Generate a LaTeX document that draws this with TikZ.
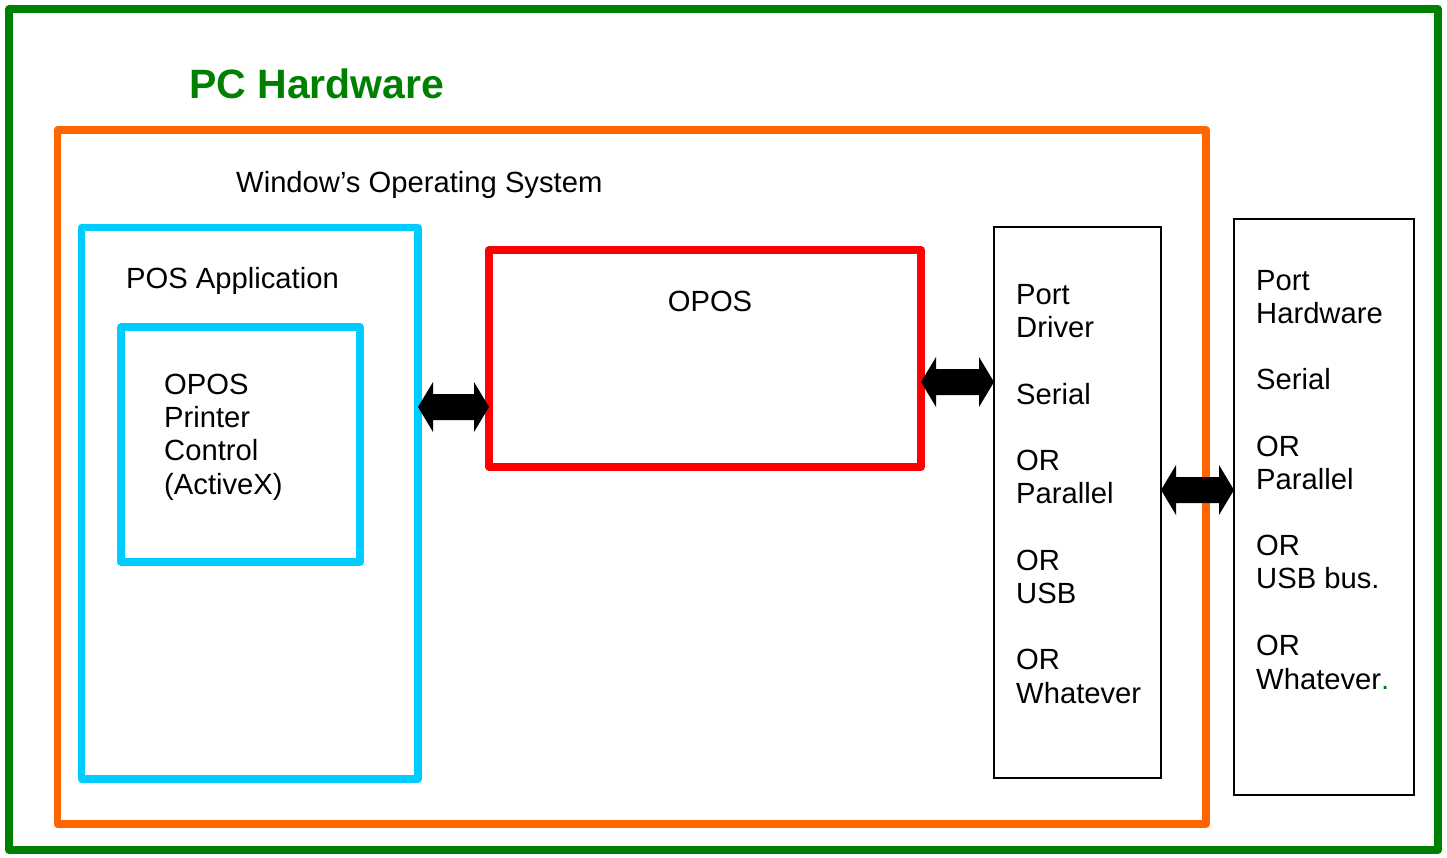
\documentclass[tikz,border=0pt]{standalone}
\usepackage{fontspec}
\setmainfont{Liberation Sans}
\usetikzlibrary{calc}
\definecolor{pcgreen}{RGB}{0,128,0}
\definecolor{osorange}{RGB}{255,102,0}
\definecolor{appcyan}{RGB}{0,204,255}
\definecolor{oposred}{RGB}{255,0,0}
\tikzset{
  box/.style={draw, line width=7.5pt, line join=round, inner sep=0pt, outer sep=0pt, anchor=north west},
  thinbox/.style={draw=black, line width=1.8pt, inner sep=0pt, outer sep=0pt, anchor=north west},
  lbl/.style={anchor=base west, inner sep=0pt, font=\fontsize{29.2}{33.2}\selectfont},
  blk/.style={fill=black, draw=none},
}
\newcommand{\blockarrow}[2]{% left coord, right coord (same y)
  \fill[blk] (#1) -- ($(#1)+(15,-25)$) -- ($(#1)+(15,-13)$) -- ($(#2)+(-15,-13)$) -- ($(#2)+(-15,-25)$) -- (#2)
    -- ($(#2)+(-15,25)$) -- ($(#2)+(-15,13)$) -- ($(#1)+(15,13)$) -- ($(#1)+(15,25)$) -- cycle;}
\begin{document}
\begin{tikzpicture}[x=1pt,y=-1pt]
\useasboundingbox (0,0) rectangle (1447,857);
% boxes
\node[box, draw=pcgreen, minimum width=1429pt, minimum height=841pt] (pc) at (9,9) {};
\node[box, draw=osorange, minimum width=1148.5pt, minimum height=694pt] (os) at (57.5,130) {};
\node[box, draw=appcyan, minimum width=336.5pt, minimum height=551.5pt] (app) at (81.5,227.5) {};
\node[box, draw=appcyan, minimum width=239pt, minimum height=235pt] (ctl) at (121,327) {};
\node[box, draw=oposred, minimum width=432pt, minimum height=217pt] (opos) at (489,250) {};
\node[thinbox, minimum width=167pt, minimum height=551pt] (drv) at (994,227) {};
\node[thinbox, minimum width=180pt, minimum height=576pt] (hw) at (1234,219) {};
% arrows
\coordinate (a1l) at (app.east |- 0,407);
\coordinate (a1r) at (opos.west |- 0,407);
\coordinate (a2l) at (opos.east |- 0,382);
\coordinate (a2r) at (drv.west |- 0,382);
\coordinate (a3l) at (drv.east |- 0,490);
\coordinate (a3r) at (hw.west |- 0,490);
\blockarrow{a1l}{a1r}
\blockarrow{a2l}{a2r}
\blockarrow{a3l}{a3r}
% titles
\node[anchor=base west, inner sep=0pt, text=pcgreen, font=\bfseries\fontsize{41}{48}\selectfont] (pct) at (189,98) {PC Hardware};
\node[lbl] (ost) at (236,192) {Window’s Operating System};
\node[lbl] (appt) at (126,288) {POS Application};
\node[anchor=base, inner sep=0pt, font=\fontsize{29.2}{33.2}\selectfont] (opost) at (710,311) {OPOS};
% control text
\node[lbl] (c1) at (164,394) {OPOS};
\node[lbl] (c2) at (164,427) {Printer};
\node[lbl] (c3) at (164,460) {Control};
\node[lbl] (c4) at (164,494) {(ActiveX)};
% port driver text
\node[lbl] (d1) at (1016,304) {Port};
\node[lbl] (d2) at (1016,337) {Driver};
\node[lbl] (d3) at (1016,404) {Serial};
\node[lbl] (d4) at (1016,470) {OR};
\node[lbl] (d5) at (1016,503) {Parallel};
\node[lbl] (d6) at (1016,570) {OR};
\node[lbl] (d7) at (1016,603) {USB};
\node[lbl] (d8) at (1016,669) {OR};
\node[lbl] (d9) at (1016,703) {Whatever};
% port hardware text
\node[lbl] (h1) at (1256,290) {Port};
\node[lbl] (h2) at (1256,323) {Hardware};
\node[lbl] (h3) at (1256,389) {Serial};
\node[lbl] (h4) at (1256,456) {OR};
\node[lbl] (h5) at (1256,489) {Parallel};
\node[lbl] (h6) at (1256,555) {OR};
\node[lbl] (h7) at (1256,588) {USB bus.};
\node[lbl] (h8) at (1256,655) {OR};
\node[lbl] (h9) at (1256,689) {Whatever\textcolor{pcgreen}{.}};
\end{tikzpicture}
\end{document}
